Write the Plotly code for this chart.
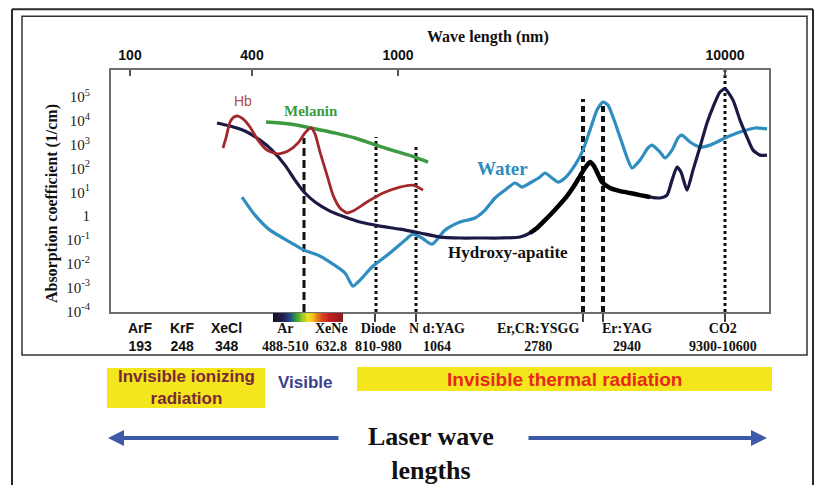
import numpy as np
import plotly.graph_objects as go

# the captured page area is ~822x493 css px (shown at 822x485); body keeps its 8px margin
OX, OY = 8, 8
FW, FH = 806, 485
SY = 493 / 485

# ---------------- data (schematic x position, log10 absorption coefficient) -------------
hb_x = [223, 226, 230, 234, 238, 243, 250, 258, 267, 278, 288, 298, 305, 311, 315, 320,
        327, 333, 340, 347, 353, 367, 383, 400, 413, 423]
hb_exp = [2.86, 3.28, 3.95, 4.16, 4.20, 4.08, 3.74, 3.19, 2.77, 2.61, 2.73, 3.07, 3.49, 3.70,
          3.45, 2.69, 1.72, 0.88, 0.34, 0.13, 0.21, 0.59, 0.97, 1.22, 1.30, 1.09]

melanin_x = [266, 290, 311, 335, 355, 376, 395, 412, 428]
melanin_exp = [3.95, 3.87, 3.70, 3.49, 3.28, 2.98, 2.73, 2.52, 2.27]

tissue_x = [217, 230, 245, 260, 272, 285, 295, 304, 315, 330, 345, 360, 380, 400, 420, 440,
            460, 480, 500, 520, 530, 537, 545, 552, 560, 567, 574, 580, 585, 590, 594, 598,
            602, 610, 620, 630, 640, 650, 660, 667, 672, 677, 681, 687, 693, 700, 707, 713,
            720, 725, 733, 740, 747, 753, 760, 767]
tissue_exp = [3.91, 3.78, 3.57, 3.19, 2.77, 2.14, 1.51, 1.01, 0.59, 0.21, -0.04, -0.25, -0.42,
              -0.55, -0.71, -0.88, -0.92, -0.92, -0.92, -0.88, -0.71, -0.50, -0.17, 0.13, 0.50,
              0.84, 1.26, 1.68, 2.02, 2.27, 2.10, 1.76, 1.43, 1.18, 1.05, 0.97, 0.88, 0.80,
              0.76, 0.88, 1.51, 2.06, 1.85, 1.09, 1.93, 2.90, 3.91, 4.58, 5.21, 5.34, 4.87,
              4.03, 3.32, 2.77, 2.56, 2.56]

hydroxy_x = [530, 537, 545, 552, 560, 567, 574, 580, 585, 590, 594, 598, 602, 610, 620, 630, 640, 650]
hydroxy_exp = [-0.71, -0.50, -0.17, 0.13, 0.50, 0.84, 1.26, 1.68, 2.02, 2.27, 2.10, 1.76, 1.43,
               1.18, 1.05, 0.97, 0.88, 0.80]

water_x = [242, 255, 270, 290, 304, 318, 330, 345, 353, 360, 372, 390, 405, 413, 422, 432, 445,
           460, 475, 485, 495, 505, 515, 522, 530, 540, 545, 552, 558, 565, 575, 583, 590, 597,
           603, 608, 613, 620, 628, 632, 640, 648, 652, 660, 665, 672, 678, 682, 690, 700, 710,
           725, 740, 755, 767]
water_exp = [0.80, 0.04, -0.59, -1.09, -1.43, -1.64, -1.93, -2.39, -2.94, -2.69, -2.14, -1.55,
             -1.01, -0.76, -0.92, -1.18, -0.59, -0.25, -0.08, 0.25, 0.76, 1.09, 1.39, 1.22, 1.39,
             1.64, 1.81, 1.60, 1.43, 1.60, 2.14, 2.77, 3.61, 4.45, 4.79, 4.66, 4.16, 3.32, 2.35,
             2.02, 2.35, 2.86, 2.98, 2.69, 2.44, 2.77, 3.28, 3.40, 3.11, 2.90, 2.98, 3.28, 3.53,
             3.70, 3.66]

laser_x = [304, 376, 416, 583, 603, 725]
laser_top_exp = [3.28, 3.32, 3.03, 4.92, 4.75, 6.13]
laser_dash = ["8px,4px", "dot", "dot", "6px,4px", "6px,4px", "dot"]
laser_width = [3, 3, 3, 4, 4, 3]

top_tick_pos = [130, 252, 398, 725]
top_tick_text = ["100", "400", "1000", "10000"]
bottom_tick_pos = [283, 327, 375, 416, 583, 603, 725]

y_tick_exp = [5, 4, 3, 2, 1, 0, -1, -2, -3, -4]
y_tick_text = ["10<sup>5</sup>", "10<sup>4</sup>", "10<sup>3</sup>", "10<sup>2</sup>",
               "10<sup>1</sup>", "1", "10<sup>-1</sup>", "10<sup>-2</sup>",
               "10<sup>-3</sup>", "10<sup>-4</sup>"]

laser_names = ["ArF", "KrF", "XeCl", "Ar", "XeNe", "Diode", "N d:YAG", "Er,CR:YSGG", "Er:YAG", "CO2"]
laser_waves = ["193", "248", "348", "488-510", "632.8", "810-980", "1064", "2780", "2940", "9300-10600"]
label_pos = [140, 182, 226, 285, 331, 378, 437, 538, 627, 723]
label_serif = [False, False, False, True, True, True, True, True, True, True]

spectrum_edges = np.linspace(273, 343, 61)
spectrum_vals = np.linspace(0, 1, 60)

Y_RANGE = [-4.03, 6.13]
X_RANGE = [111, 769]
SERIF = "Liberation Serif, Times New Roman, serif"
SANS = "Liberation Sans, Arial, sans-serif"
NARROW = "Liberation Sans Narrow, Arial Narrow, Liberation Sans, Arial, sans-serif"


def pw(v):
    return [10 ** e for e in v]


def px(x):
    return (x - OX) / FW


def py(y):
    return 1 - (y * SY - OY) / FH


fig = go.Figure()

# laser lines
for lx, top, dash, lw in zip(laser_x, laser_top_exp, laser_dash, laser_width):
    fig.add_trace(go.Scatter(x=[lx, lx], y=[10 ** Y_RANGE[0], 10 ** top], mode="lines",
                             line=dict(color="#111111", width=lw, dash=dash),
                             hoverinfo="skip", showlegend=False))

fig.add_trace(go.Scatter(x=melanin_x, y=pw(melanin_exp), mode="lines", name="Melanin",
                         line=dict(color="#3C9A40", width=3.5, shape="spline")))
fig.add_trace(go.Scatter(x=water_x, y=pw(water_exp), mode="lines", name="Water",
                         line=dict(color="#2F8DBF", width=3.2, shape="spline", smoothing=0.6)))
fig.add_trace(go.Scatter(x=tissue_x, y=pw(tissue_exp), mode="lines", name="Tissue",
                         line=dict(color="#1B1A45", width=3.2, shape="spline", smoothing=0.6)))
fig.add_trace(go.Scatter(x=hydroxy_x, y=pw(hydroxy_exp), mode="lines", name="Hydroxy-apatite",
                         line=dict(color="#000000", width=4.5, shape="spline", smoothing=0.6)))
fig.add_trace(go.Scatter(x=hb_x, y=pw(hb_exp), mode="lines", name="Hb",
                         line=dict(color="#A2282B", width=2.8, shape="spline", smoothing=0.6)))

# visible spectrum strip
fig.add_trace(go.Heatmap(x=spectrum_edges, y=[0, 1], z=[spectrum_vals], xaxis="x", yaxis="y3",
                         showscale=False, hoverinfo="skip",
                         colorscale=[[0, "#14122a"], [0.12, "#241a48"], [0.22, "#1f3f86"],
                                     [0.32, "#2f9a3c"], [0.42, "#9cc726"], [0.5, "#f0e41e"],
                                     [0.58, "#f3b81c"], [0.68, "#e0501e"], [0.8, "#c42222"],
                                     [1, "#8e1a1c"]]))

fig.add_trace(go.Scatter(x=top_tick_pos, y=[1] * 4, xaxis="x2", yaxis="y", mode="markers",
                         marker=dict(opacity=0), hoverinfo="skip", showlegend=False))


def P(x, y):
    return dict(x=px(x), y=py(y), xref="paper", yref="paper", showarrow=False,
                xanchor="center", yanchor="middle")


ann = []
ann.append(dict(**P(488, 37), text="<b>Wave length (nm)</b>", font=dict(family=SERIF, size=16, color="#111")))
ann.append(dict(**P(52, 204), text="<b>Absorption coefficient (1/cm)</b>", textangle=-90,
                font=dict(family=SERIF, size=16, color="#111")))
ann.append(dict(**P(243, 101), text="Hb", font=dict(family=SANS, size=14, color="#B64A45")))
ann.append(dict(**P(311, 111), text="<b>Melanin</b>", font=dict(family=SERIF, size=15, color="#3C9A40")))
ann.append(dict(**P(502, 168), text="<b>Water</b>", font=dict(family=SERIF, size=19, color="#2F8DBF")))
ann.append(dict(**P(508, 252), text="<b>Hydroxy-apatite</b>", font=dict(family=SERIF, size=17, color="#111")))

for name, wave, xp, serif in zip(laser_names, laser_waves, label_pos, label_serif):
    ann.append(dict(**P(xp, 337), text=f"<b>{name}</b><br><b>{wave}</b>",
                    font=dict(family=SERIF if serif else SANS, size=14, color="#111")))

ann.append(dict(**P(186, 387), text="<b>Invisible ionizing</b><br><b>radiation</b>",
                font=dict(family=NARROW, size=17, color="#7A2838")))
ann.append(dict(**P(305, 382), text="<b>Visible</b>", font=dict(family=NARROW, size=17, color="#3A3F90")))
ann.append(dict(**P(564, 379), text="<b>Invisible thermal radiation</b>",
                font=dict(family=NARROW, size=19, color="#E8281E")))
ann.append(dict(**P(431, 453), text="<b>Laser wave</b><br><b>lengths</b>",
                font=dict(family=SERIF, size=26, color="#111")))

ann.append(dict(x=px(108), y=py(438), xref="paper", yref="paper", text="", showarrow=True,
                ax=232, ay=0, arrowhead=2, arrowsize=0.8, arrowwidth=4, arrowcolor="#3C5AA8"))
ann.append(dict(x=px(767), y=py(438), xref="paper", yref="paper", text="", showarrow=True,
                ax=-240, ay=0, arrowhead=2, arrowsize=0.8, arrowwidth=4, arrowcolor="#3C5AA8"))

frame = dict(color="#2a2a2a", width=2)
shapes = [
    dict(type="line", xref="paper", yref="paper", x0=px(12), x1=px(12), y0=0, y1=py(9), line=frame),
    dict(type="line", xref="paper", yref="paper", x0=px(813), x1=px(813), y0=0, y1=py(9), line=frame),
    dict(type="line", xref="paper", yref="paper", x0=px(12), x1=px(813), y0=py(9), y1=py(9), line=frame),
    dict(type="rect", xref="paper", yref="paper", x0=px(22), x1=px(807), y0=py(355), y1=py(16),
         line=dict(color="#333", width=1.5), layer="below"),
    dict(type="rect", xref="paper", yref="paper", x0=px(107), x1=px(265), y0=py(408), y1=py(368),
         fillcolor="#F4E61C", line=dict(width=0), layer="below"),
    dict(type="rect", xref="paper", yref="paper", x0=px(357), x1=px(772), y0=py(391), y1=py(367),
         fillcolor="#F4E61C", line=dict(width=0), layer="below"),
]

fig.update_layout(
    width=FW, height=FH, margin=dict(l=0, r=0, t=0, b=0),
    paper_bgcolor="white", plot_bgcolor="white", showlegend=False,
    annotations=ann, shapes=shapes,
    xaxis=dict(domain=[px(111), px(769)], range=X_RANGE, showgrid=False, zeroline=False,
               showline=True, mirror=True, linecolor="#6f6f6f", linewidth=2,
               tickvals=bottom_tick_pos, ticks="outside", ticklen=8, tickwidth=2, tickcolor="#444",
               showticklabels=False, anchor="y"),
    xaxis2=dict(overlaying="x", side="top", range=X_RANGE, anchor="y", showgrid=False,
                zeroline=False, tickvals=top_tick_pos, ticktext=[f"<b>{t}</b>" for t in top_tick_text],
                ticks="inside", ticklen=6, tickwidth=2, tickcolor="#555",
                tickfont=dict(family=SANS, size=14, color="#111"), ticklabelstandoff=6),
    yaxis=dict(domain=[py(312), py(70)], type="log", range=Y_RANGE, showgrid=False,
               zeroline=False, showline=True, mirror=True, linecolor="#6f6f6f", linewidth=2,
               tickvals=[10 ** e for e in y_tick_exp], ticktext=y_tick_text, ticks="",
               tickfont=dict(family=SERIF, size=15, color="#222"), ticklabelstandoff=16),
    yaxis3=dict(domain=[py(322), py(313)], range=[0, 1], visible=False, anchor="x"),
)

fig.write_html("out.html", config={"displayModeBar": False})
